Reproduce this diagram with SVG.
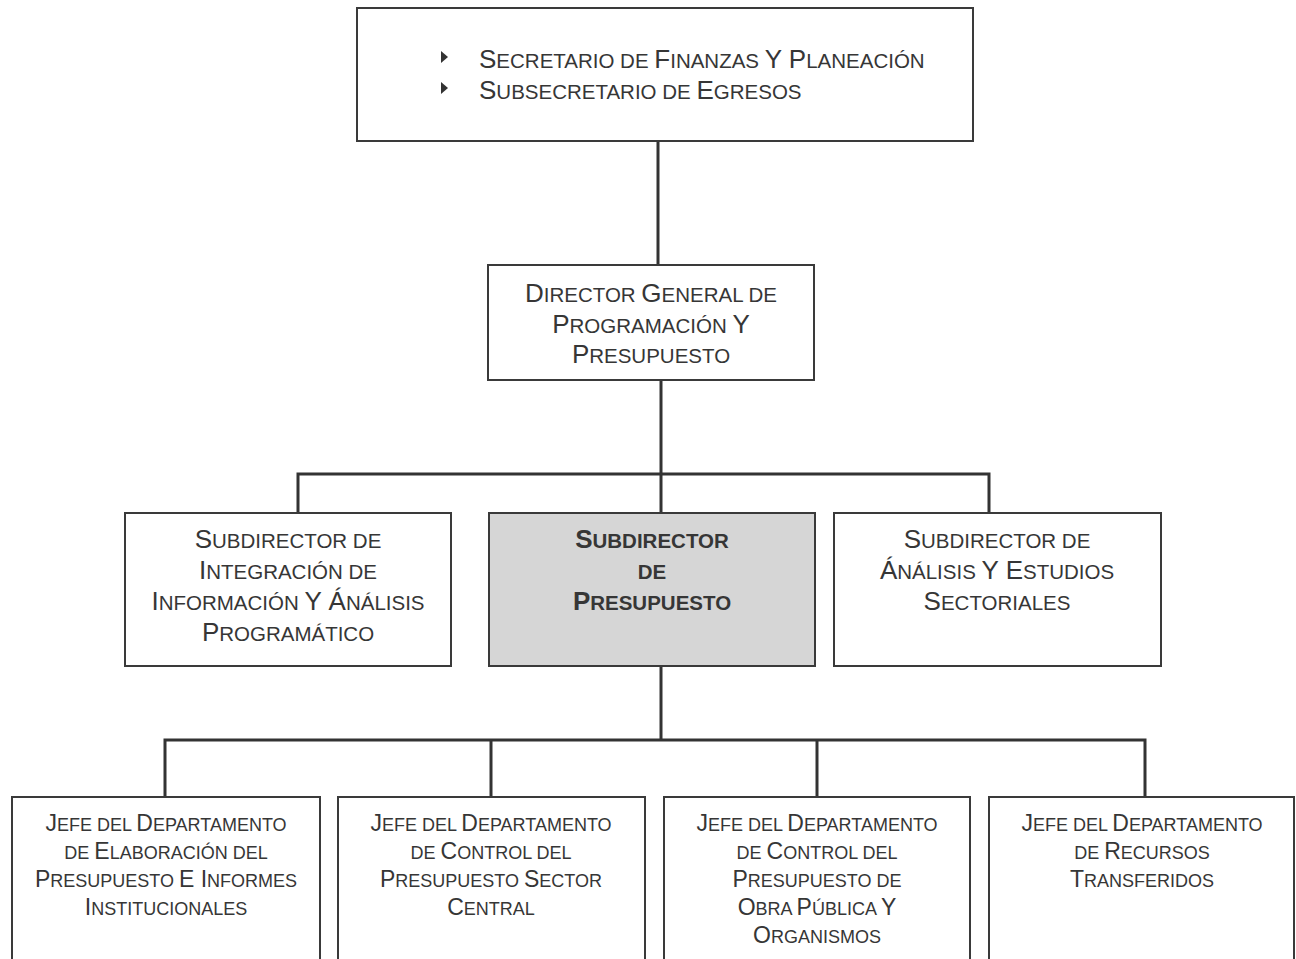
<svg xmlns="http://www.w3.org/2000/svg" width="1296" height="959" viewBox="0 0 1296 959">
<style>
.box{fill:#ffffff;stroke:#3a3a3a;stroke-width:2}
.gray{fill:#d6d6d6;stroke:#3a3a3a;stroke-width:2}
.conn{fill:none;stroke:#333333;stroke-width:3}
text{font-family:"Liberation Sans",Arial,sans-serif;fill:#363636}
.t{font-size:26px}
.t .s{font-size:20.5px}
.c{text-anchor:middle}
.bd{font-weight:bold}
.b{font-size:23px}
.b .s{font-size:18px}
.bul{fill:#333333}
</style>
<rect width="1296" height="959" fill="#ffffff"/>
<g id="connectors">
<path class="conn" d="M658 141V265"/>
<path class="conn" d="M661 380V513"/>
<path class="conn" d="M298 513V474H989V513"/>
<path class="conn" d="M661 666V740"/>
<path class="conn" d="M165 797V740H1145V797"/>
<path class="conn" d="M491 740V797"/>
<path class="conn" d="M817 740V797"/>
</g>
<g id="n-secretario">
<rect class="box" x="357" y="8" width="616" height="133"/>
<path class="bul" d="M441 51L448 57L441 63Z"/>
<path class="bul" d="M441 82L448 88L441 94Z"/>
<text class="t" x="479" y="68">S<tspan class="s">ECRETARIO DE </tspan>F<tspan class="s">INANZAS </tspan>Y P<tspan class="s">LANEACIÓN</tspan></text>
<text class="t" x="479" y="99">S<tspan class="s">UBSECRETARIO DE </tspan>E<tspan class="s">GRESOS</tspan></text>
</g>
<g id="n-director">
<rect class="box" x="488" y="265" width="326" height="115"/>
<text class="t c" x="651" y="302">D<tspan class="s">IRECTOR </tspan>G<tspan class="s">ENERAL DE</tspan></text>
<text class="t c" x="651" y="333">P<tspan class="s">ROGRAMACIÓN </tspan>Y</text>
<text class="t c" x="651" y="363">P<tspan class="s">RESUPUESTO</tspan></text>
</g>
<g id="n-sub-integracion">
<rect class="box" x="125" y="513" width="326" height="153"/>
<text class="t c" x="288" y="548">S<tspan class="s">UBDIRECTOR DE</tspan></text>
<text class="t c" x="288" y="579">I<tspan class="s">NTEGRACIÓN DE</tspan></text>
<text class="t c" x="288" y="610">I<tspan class="s">NFORMACIÓN </tspan>Y Á<tspan class="s">NÁLISIS</tspan></text>
<text class="t c" x="288" y="641">P<tspan class="s">ROGRAMÁTICO</tspan></text>
</g>
<g id="n-sub-presupuesto">
<rect class="gray" x="489" y="513" width="326" height="153"/>
<text class="t c bd" x="652" y="548">S<tspan class="s">UBDIRECTOR</tspan></text>
<text class="t c bd" x="652" y="579"><tspan class="s">DE</tspan></text>
<text class="t c bd" x="652" y="610">P<tspan class="s">RESUPUESTO</tspan></text>
</g>
<g id="n-sub-analisis">
<rect class="box" x="834" y="513" width="327" height="153"/>
<text class="t c" x="997" y="548">S<tspan class="s">UBDIRECTOR DE</tspan></text>
<text class="t c" x="997" y="579">Á<tspan class="s">NÁLISIS </tspan>Y E<tspan class="s">STUDIOS</tspan></text>
<text class="t c" x="997" y="610">S<tspan class="s">ECTORIALES</tspan></text>
</g>
<g id="n-jefe-elaboracion">
<rect class="box" x="12" y="797" width="308" height="175"/>
<text class="b c" x="166" y="831">J<tspan class="s">EFE DEL </tspan>D<tspan class="s">EPARTAMENTO</tspan></text>
<text class="b c" x="166" y="859"><tspan class="s">DE </tspan>E<tspan class="s">LABORACIÓN DEL</tspan></text>
<text class="b c" x="166" y="887">P<tspan class="s">RESUPUESTO </tspan>E I<tspan class="s">NFORMES</tspan></text>
<text class="b c" x="166" y="915">I<tspan class="s">NSTITUCIONALES</tspan></text>
</g>
<g id="n-jefe-control-central">
<rect class="box" x="338" y="797" width="307" height="175"/>
<text class="b c" x="491" y="831">J<tspan class="s">EFE DEL </tspan>D<tspan class="s">EPARTAMENTO</tspan></text>
<text class="b c" x="491" y="859"><tspan class="s">DE </tspan>C<tspan class="s">ONTROL DEL</tspan></text>
<text class="b c" x="491" y="887">P<tspan class="s">RESUPUESTO </tspan>S<tspan class="s">ECTOR</tspan></text>
<text class="b c" x="491" y="915">C<tspan class="s">ENTRAL</tspan></text>
</g>
<g id="n-jefe-control-obra">
<rect class="box" x="664" y="797" width="306" height="175"/>
<text class="b c" x="817" y="831">J<tspan class="s">EFE DEL </tspan>D<tspan class="s">EPARTAMENTO</tspan></text>
<text class="b c" x="817" y="859"><tspan class="s">DE </tspan>C<tspan class="s">ONTROL DEL</tspan></text>
<text class="b c" x="817" y="887">P<tspan class="s">RESUPUESTO DE</tspan></text>
<text class="b c" x="817" y="915">O<tspan class="s">BRA </tspan>P<tspan class="s">ÚBLICA </tspan>Y</text>
<text class="b c" x="817" y="943">O<tspan class="s">RGANISMOS</tspan></text>
</g>
<g id="n-jefe-recursos">
<rect class="box" x="989" y="797" width="305" height="175"/>
<text class="b c" x="1142" y="831">J<tspan class="s">EFE DEL </tspan>D<tspan class="s">EPARTAMENTO</tspan></text>
<text class="b c" x="1142" y="859"><tspan class="s">DE </tspan>R<tspan class="s">ECURSOS</tspan></text>
<text class="b c" x="1142" y="887">T<tspan class="s">RANSFERIDOS</tspan></text>
</g>
</svg>
